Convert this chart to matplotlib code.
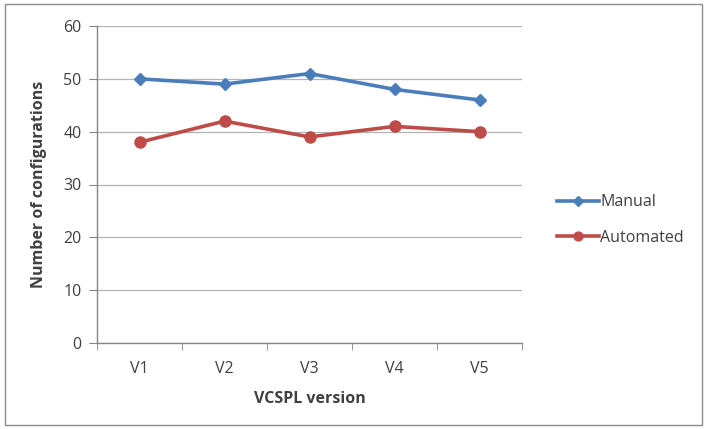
import matplotlib
matplotlib.use("Agg")
import matplotlib.pyplot as plt
from matplotlib.patches import Rectangle

versions = ["V1", "V2", "V3", "V4", "V5"]
manual = [50, 49, 51, 48, 46]
automated = [38, 42, 39, 41, 40]

plt.rcParams['font.family'] = ['Open Sans', 'DejaVu Sans']
grey = '#868686'
txt = '#404040'
fs = 11.5

fig = plt.figure(figsize=(7.08, 4.29), dpi=100)
ax = fig.add_axes([97/708, 1-343/429, 425/708, 317/429])

x = list(range(len(versions)))
ax.plot(x, manual, color='#4A7EBB', lw=2.6, marker='D', ms=6, label='Manual')
ax.plot(x, automated, color='#BE4B48', lw=2.6, marker='o', ms=8, label='Automated')

ax.set_xlim(-0.5, 4.5)
ax.set_ylim(0, 60)
ax.set_yticks(range(0, 61, 10))
ax.set_xticks(x)
ax.set_xticklabels(versions)
ax.set_xticks([i - 0.5 for i in range(6)], minor=True)
ax.tick_params(axis='x', which='major', length=0, pad=13, labelsize=fs, labelcolor=txt)
ax.tick_params(axis='x', which='minor', length=5, color=grey, direction='out')
ax.tick_params(axis='y', length=6, color=grey, labelsize=fs, labelcolor=txt, pad=5)
ax.grid(axis='y', color='#B3B3B3', lw=0.9)
ax.set_axisbelow(True)
for s in ['top', 'right']:
    ax.spines[s].set_visible(False)
for s in ['left', 'bottom']:
    ax.spines[s].set_color(grey)
    ax.spines[s].set_linewidth(1)

ax.set_xlabel('VCSPL version', fontsize=fs, fontweight='bold', color=txt, labelpad=10)
ax.set_ylabel('Number of configurations', fontsize=fs, fontweight='bold', color=txt, labelpad=12)

fig.legend(loc='center left', bbox_to_anchor=(543/708, 1-220/429), frameon=False,
           fontsize=fs, labelcolor=txt, handlelength=2.6, handletextpad=0.1,
           labelspacing=1.2, markerscale=0.8)

fig.patches.append(Rectangle((5/708, 4/429), 697/708, 421/429, transform=fig.transFigure,
                             fill=False, edgecolor='#8C8C8C', lw=1))

fig.savefig('out.png', dpi=100)
